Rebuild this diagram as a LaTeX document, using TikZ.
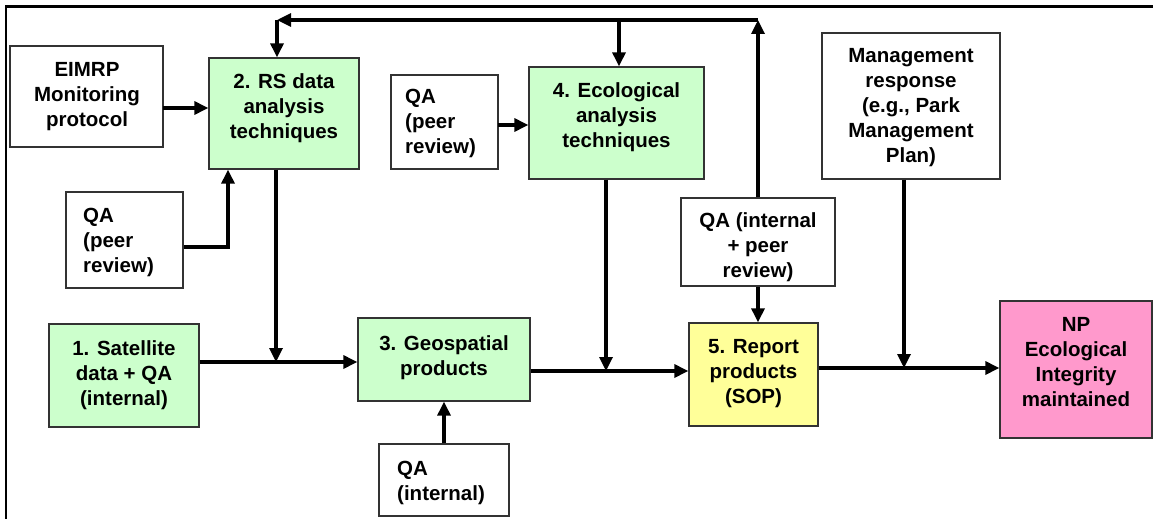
\documentclass[tikz,border=0pt]{standalone}
\usepackage{fontspec}
\setmainfont{Liberation Sans}
\usetikzlibrary{arrows.meta}
\definecolor{boxgreen}{HTML}{CCFFCC}
\definecolor{boxyellow}{HTML}{FFFF99}
\definecolor{boxpink}{HTML}{FF99CC}
\begin{document}
\begin{tikzpicture}[x=1pt,y=-1pt,
  box/.style={draw=black!80, line width=1.3pt, inner sep=0pt, rectangle},
  txt/.style={inner sep=0pt, align=center, anchor=base, font=\bfseries\fontsize{20.5}{25}\selectfont},
  txtl/.style={inner sep=0pt, align=left, anchor=base west, font=\bfseries\fontsize{20.5}{25}\selectfont},
  arr/.style={line width=3.2pt, -{Triangle[length=14pt,width=13pt]}}]
\useasboundingbox (0,0) rectangle (1153,519);
% frame
\draw[line width=3pt] (5,7) -- (1153,7);
\draw[line width=2.5pt] (6,7) -- (6,519);
% boxes
\node[box, minimum width=153pt, minimum height=101pt] (eimrp) at (86.5,96.5) {};
\node[box, fill=boxgreen, minimum width=150pt, minimum height=111pt] (rs) at (284,113.5) {};
\node[box, minimum width=117pt, minimum height=96pt] (qal) at (124.5,240) {};
\node[box, minimum width=107pt, minimum height=94pt] (qam) at (444.5,122) {};
\node[box, fill=boxgreen, minimum width=175pt, minimum height=112pt] (eco) at (616.5,123) {};
\node[box, minimum width=154pt, minimum height=88pt] (qap) at (758,242) {};
\node[box, minimum width=178pt, minimum height=146pt] (mgmt) at (911,106) {};
\node[box, fill=boxgreen, minimum width=150pt, minimum height=103pt] (sat) at (124,375.5) {};
\node[box, fill=boxgreen, minimum width=172pt, minimum height=83pt] (geo) at (444,359.5) {};
\node[box, minimum width=130pt, minimum height=72pt] (qai) at (444,480) {};
\node[box, fill=boxyellow, minimum width=129pt, minimum height=103pt] (rep) at (753.5,374.5) {};
\node[box, fill=boxpink, minimum width=152pt, minimum height=137pt] (np) at (1076,369.5) {};
% texts (anchored at the baseline of the last line)
\node[txt] (teimrp) at (87,126) {EIMRP\\Monitoring\\protocol};
\node[txt] (trs) at (284,138) {2. RS data\\analysis\\techniques};
\node[txtl] (tqal) at (83,272) {QA\\(peer\\review)};
\node[txtl] (tqam) at (405,153) {QA\\(peer\\review)};
\node[txt] (teco) at (616.5,147) {4. Ecological\\analysis\\techniques};
\node[txt] (tqap) at (758,277) {QA (internal\\+ peer\\review)};
\node[txt] (tmgmt) at (911,162) {Management\\response\\(e.g., Park\\Management\\Plan)};
\node[txt] (tsat) at (124,405) {1. Satellite\\data + QA\\(internal)};
\node[txt] (tgeo) at (444,375) {3. Geospatial\\products};
\node[txtl] (tqai) at (397,500) {QA\\(internal)};
\node[txt] (trep) at (753.5,403) {5. Report\\products\\(SOP)};
\node[txt] (tnp) at (1076,406) {NP\\Ecological\\Integrity\\maintained};
% junction coordinates
\coordinate (e1) at (163,108);
\coordinate (q1) at (228,247);
\coordinate (j1) at (276,362);
\coordinate (j2) at (606,371);
\coordinate (j3) at (904,368);
\coordinate (m1) at (498,125);
\coordinate (t0) at (277,20);
\coordinate (t1) at (758,20);
\coordinate (t2) at (619,20);
% connectors
\draw[arr] (e1) -- (e1 -| rs.west);
\draw[arr] (q1 -| qal.east) -- (q1) -- (q1 |- rs.south);
\draw[arr] (j1 |- rs.south) -- (j1);
\draw[arr] (j1 -| sat.east) -- (j1 -| geo.west);
\draw[arr] (qai.north) -- (qai.north |- geo.south);
\draw[arr] (j2 |- eco.south) -- (j2);
\draw[arr] (j2 -| geo.east) -- (j2 -| rep.west);
\draw[arr] (qap.south) -- (qap.south |- rep.north);
\draw[arr] (qap.north) -- (t1);
\draw[arr] (t1) -- (t0);
\draw[arr] (t0) -- (t0 |- rs.north);
\draw[arr] (t2) -- (t2 |- eco.north);
\draw[arr] (m1) -- (m1 -| eco.west);
\draw[arr] (j3 |- mgmt.south) -- (j3);
\draw[arr] (j3 -| rep.east) -- (j3 -| np.west);
\end{tikzpicture}
\end{document}
